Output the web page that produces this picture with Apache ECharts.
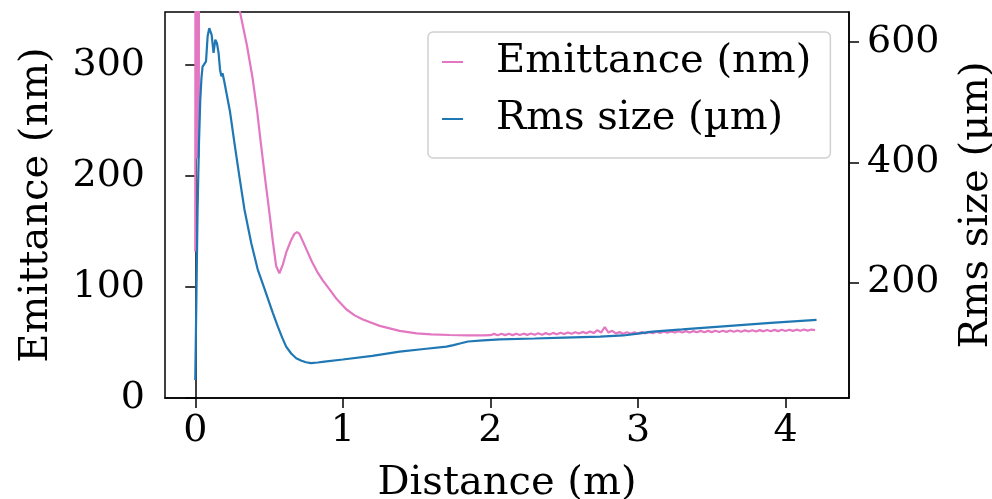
<!DOCTYPE html>
<html>
<head>
<meta charset="utf-8">
<script src="https://cdn.jsdelivr.net/npm/echarts@6/dist/echarts.min.js"></script>
<style>
  html, body { margin: 0; padding: 0; background: #fff; }
  #chart { width: 992px; height: 499px; }
</style>
</head>
<body>
<div id="chart"></div>
<script>
// emittance (nm), left axis
const emitDist = [
  0, 0.002, 0.004, 0.006, 0.008, 0.010, 0.012, 0.014, 0.016, 0.018, 0.020, 0.022, 0.024, 0.026, 0.028,
  0.05, 0.1, 0.2, 0.25, 0.3, 0.35, 0.389, 0.42, 0.446, 0.475, 0.502, 0.525, 0.548, 0.57, 0.593,
  0.616, 0.645, 0.672, 0.69, 0.706, 0.73, 0.76, 0.79, 0.83, 0.864, 0.91, 0.96, 1.023, 1.08, 1.136,
  1.25, 1.385, 1.5, 1.6, 1.724, 1.85, 1.95,
  2.000, 2.025, 2.050, 2.075, 2.100, 2.125, 2.150, 2.175, 2.200, 2.225, 2.250, 2.275, 2.300, 2.325,
  2.350, 2.375, 2.400, 2.425, 2.450, 2.475, 2.500, 2.525, 2.550, 2.575, 2.600, 2.625, 2.650, 2.675,
  2.700, 2.725, 2.750, 2.775, 2.800, 2.825, 2.850, 2.875, 2.900, 2.925, 2.950, 2.975, 3.000, 3.025,
  3.050, 3.075, 3.100, 3.125, 3.150, 3.175, 3.200, 3.225, 3.250, 3.275, 3.300, 3.325, 3.350, 3.375,
  3.400, 3.425, 3.450, 3.475, 3.500, 3.525, 3.550, 3.575, 3.600, 3.625, 3.650, 3.675, 3.700, 3.725,
  3.750, 3.775, 3.800, 3.825, 3.850, 3.875, 3.900, 3.925, 3.950, 3.975, 4.000, 4.025, 4.050, 4.075,
  4.100, 4.125, 4.150, 4.175, 4.200
];
const emitValues = [
  132, 520, 217, 610, 216, 580, 218, 640, 216, 600, 219, 660, 217, 620, 700,
  450, 440, 400, 378, 350, 318, 288, 258, 228, 196, 167.5, 142, 119, 112.5, 120,
  131, 141, 148, 149.5, 148, 141, 132, 123, 113, 106, 98, 89, 80, 74.5, 70.7,
  65, 60.5, 58.3, 57.3, 56.8, 56.5, 56.5,
  56.6, 57.8, 56.6, 57.9, 56.7, 57.9, 56.7, 58.0, 56.8, 58.0, 56.9, 58.1, 57.0, 58.3,
  57.1, 58.5, 57.3, 58.7, 57.5, 58.9, 57.7, 59.1, 57.9, 59.3, 58.1, 59.6, 58.3, 60.0,
  58.5, 61.2, 59.0, 64.0, 59.0, 60.6, 58.2, 59.4, 58.0, 59.2, 58.0, 59.3, 58.2, 59.4,
  58.3, 59.6, 58.5, 59.8, 58.7, 59.9, 58.9, 60.1, 59.0, 60.2, 59.0, 60.3, 59.1, 60.3,
  59.3, 60.5, 59.3, 60.5, 59.4, 60.6, 59.5, 60.7, 59.6, 60.8, 59.7, 60.9, 59.8, 61.0,
  59.9, 61.1, 60.0, 61.2, 60.1, 61.3, 60.2, 61.4, 60.3, 61.5, 60.4, 61.6, 60.5, 61.6,
  60.6, 61.7, 60.7, 61.7, 61.2
];

// rms size (µm), right axis
const rmsDist = [
  0, 0.008, 0.0156, 0.025, 0.034, 0.042, 0.0496, 0.06, 0.073, 0.084, 0.095, 0.111, 0.124, 0.136,
  0.147, 0.158, 0.168, 0.177, 0.185, 0.197, 0.208, 0.235, 0.265, 0.3, 0.333, 0.38, 0.423, 0.46, 0.491,
  0.525, 0.559, 0.59, 0.616, 0.65, 0.684, 0.72, 0.75, 0.785, 0.83, 0.876, 1.0, 1.2, 1.385, 1.55, 1.702,
  1.75, 1.8, 1.849, 1.95, 2.064, 2.3, 2.5, 2.743, 2.9, 3.0, 3.1, 3.3, 3.6, 3.9, 4.21
];
const rmsValues = [
  38, 180, 320, 430, 504, 540, 559, 563, 568, 610, 623, 612, 582, 604,
  598, 582, 554, 543, 548, 534, 531, 485, 433, 375, 322, 265, 222, 196, 174,
  150, 127, 108, 93.5, 82, 74, 70, 67.5, 66, 67, 68.6, 72, 78, 85, 89.5, 93.5,
  96, 99, 102, 104, 105.5, 107, 108.5, 110, 112, 115, 118.5, 122, 127.5, 133, 138
];

const xTicks = [0, 1, 2, 3, 4];
const emitTicks = [0, 100, 200, 300];
const rmsTicks = [200, 400, 600];

const zip = (xs, ys) => xs.map((x, i) => [x, ys[i]]);

const FONT = 'DejaVu Serif';
const axisLineStyle = { color: '#000', width: 1.5 };

const chart = echarts.init(document.getElementById('chart'), null, { renderer: 'canvas' });

chart.setOption({
  animation: false,
  backgroundColor: '#fff',
  textStyle: { fontFamily: FONT },
  grid: {
    left: 165,
    right: 143,
    top: 12,
    bottom: 101,
    containLabel: false,
    outerBoundsMode: 'none',
    show: true,
    borderColor: '#000',
    borderWidth: 1.5,
    backgroundColor: 'transparent',
  },
  legend: {
    orient: 'vertical',
    left: 428,
    top: 32,
    padding: [10, 19, 19, 14],
    itemGap: 17,
    itemWidth: 21,
    itemHeight: 2,
    icon: 'rect',
    backgroundColor: 'rgba(255,255,255,0.8)',
    borderColor: '#d0d0d0',
    borderWidth: 1.5,
    borderRadius: 5,
    textStyle: {
      fontFamily: FONT,
      fontSize: 40,
      color: '#000',
      lineHeight: 40,
      padding: [0, 0, 0, 28],
    },
    data: ['Emittance (nm)', 'Rms size (µm)'],
  },
  xAxis: {
    type: 'value',
    min: -0.205,
    max: 4.43,
    name: 'Distance (m)',
    nameLocation: 'middle',
    nameGap: 66,
    nameTextStyle: { fontFamily: FONT, fontSize: 40, color: '#000' },
    axisLine: { show: true, lineStyle: axisLineStyle },
    axisTick: { show: true, length: 10, lineStyle: axisLineStyle, customValues: xTicks },
    axisLabel: { fontFamily: FONT, fontSize: 38, color: '#000', margin: 14, customValues: xTicks },
    splitLine: { show: false },
  },
  yAxis: [
    {
      type: 'value',
      min: 0,
      max: 348,
      name: 'Emittance (nm)',
      nameLocation: 'middle',
      nameRotate: 90,
      nameGap: 108,
      nameTextStyle: { fontFamily: FONT, fontSize: 40, color: '#000' },
      axisLine: { show: true, lineStyle: axisLineStyle },
      axisTick: { show: true, length: 10, lineStyle: axisLineStyle, customValues: emitTicks },
      axisLabel: { fontFamily: FONT, fontSize: 38, color: '#000', margin: 20, customValues: emitTicks },
      splitLine: { show: false },
    },
    {
      type: 'value',
      position: 'right',
      min: 8,
      max: 650,
      name: 'Rms size (µm)',
      nameLocation: 'middle',
      nameRotate: 90,
      nameGap: 108,
      nameTextStyle: { fontFamily: FONT, fontSize: 40, color: '#000' },
      axisLine: { show: true, lineStyle: axisLineStyle },
      axisTick: { show: true, length: 10, lineStyle: axisLineStyle, customValues: rmsTicks },
      axisLabel: { fontFamily: FONT, fontSize: 38, color: '#000', margin: 18, customValues: rmsTicks },
      splitLine: { show: false },
    },
  ],
  series: [
    {
      name: 'Emittance (nm)',
      type: 'line',
      yAxisIndex: 0,
      data: zip(emitDist, emitValues),
      showSymbol: false,
      clip: true,
      color: '#e377c2',
      lineStyle: { color: '#e377c2', width: 2.2 },
    },
    {
      name: 'Rms size (µm)',
      type: 'line',
      yAxisIndex: 1,
      data: zip(rmsDist, rmsValues),
      showSymbol: false,
      clip: true,
      color: '#1f77b4',
      lineStyle: { color: '#1f77b4', width: 2.2 },
    },
  ],
});
</script>
</body>
</html>
